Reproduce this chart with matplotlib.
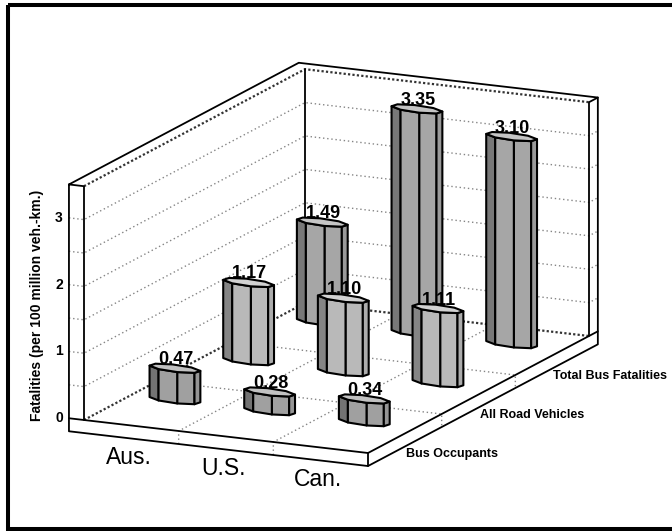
import numpy as np
import matplotlib
matplotlib.use('Agg')
import matplotlib.pyplot as plt
from matplotlib.patches import Polygon, Rectangle

plt.rcParams['font.family'] = ['Liberation Sans', 'DejaVu Sans']

categories = ['Aus.', 'U.S.', 'Can.']
series_names = ['Bus Occupants', 'All Road Vehicles', 'Total Bus Fatalities']
bus_occupants = [0.47, 0.28, 0.34]
all_road_vehicles = [1.17, 1.10, 1.11]
total_bus = [1.49, 3.35, 3.10]
z_ticks = [0, 1, 2, 3]
z_top = 3.5

series_values = [bus_occupants, all_road_vehicles, total_bus]
series_colors = ['#a0a0a0', '#b9b9b9', '#a6a6a6']

# oblique view, pixel space (x across, d into the page, z up)
ORIGIN = np.array([84.0, 420.0])
EX = np.array([284.0, 33.0])
ED = np.array([221.0, -117.0])
EZ = np.array([0.0, -66.8])

tx, td, slab = 0.053, 0.04, 0.195


def proj(x, d, z):
    return ORIGIN + x * EX + d * ED + z * EZ


def pts(seq):
    return np.array([proj(*p) for p in seq])


# depth ordering direction (toward the viewer, front-right)
kx = EX[1] / EX[0]
kd = ED[1] / ED[0]
sin_el = np.sqrt(-kx * kd)
az = np.arctan(kd / sin_el)
a_phys = EX[0] / -np.sin(az)
b_phys = ED[0] / np.cos(az)

# octagon outline in screen offsets, front vertex slightly right of centre
R = 25.5
flat = 0.14
phi = np.radians(5)
theta = phi + np.arange(8) * np.pi / 4
oct_off = np.column_stack([R * np.sin(theta),
                           R * np.sin(theta) * kx + R * flat * np.cos(theta)])

fig = plt.figure(figsize=(6.72, 5.31), dpi=100)
ax = fig.add_axes([0, 0, 1, 1])
ax.set_xlim(0, 672)
ax.set_ylim(531, 0)
ax.axis('off')

blk = dict(color='black', lw=1.3, solid_capstyle='round', zorder=3)


def line(seq, **kw):
    p = pts(seq)
    ax.plot(p[:, 0], p[:, 1], **kw)


def face(seq, z=1):
    ax.add_patch(Polygon(pts(seq), closed=True, facecolor='white',
                         edgecolor='none', zorder=z))


# floor slab and walls
face([(-tx, 0, -slab), (1, 0, -slab), (1, 0, 0), (-tx, 0, 0)])
face([(1, 0, -slab), (1, 1 + td, -slab), (1, 1 + td, 0), (1, 0, 0)])
face([(0, 0, 0), (1, 0, 0), (1, 1, 0), (0, 1, 0)])
face([(-tx, 0, 0), (0, 0, 0), (0, 0, z_top), (-tx, 0, z_top)])
face([(0, 0, 0), (0, 1, 0), (0, 1, z_top), (0, 0, z_top)])
face([(0, 1, 0), (1, 1, 0), (1, 1, z_top), (0, 1, z_top)])
face([(1, 1, 0), (1, 1 + td, 0), (1, 1 + td, z_top), (1, 1, z_top)])
face([(-tx, 0, z_top), (0, 0, z_top), (0, 1, z_top), (1, 1, z_top),
      (1, 1 + td, z_top), (-tx, 1 + td, z_top)])

# gridlines
grid = dict(color='#858585', lw=1.0, linestyle=(0, (1, 2)), zorder=2)
for z in np.arange(0.5, 3.01, 0.5):
    line([(-tx, 0, z), (0, 0, z), (0, 1, z), (1, 1, z), (1, 1 + td, z)], **grid)
for f in [1 / 3, 2 / 3]:
    line([(f, 0, -slab), (f, 0, 0), (f, 1, 0)], **grid)
    line([(0, f, 0), (1, f, 0), (1, f, -slab)], **grid)

# inner edges
inner = dict(color='#333333', lw=1.6, linestyle=(0, (1, 1)), zorder=3)
line([(0, 0, z_top), (0, 1, z_top), (1, 1, z_top)], **inner)
line([(0, 0, 0), (0, 1, 0), (1, 1, 0)], **inner)

# outer edges
line([(-tx, 0, z_top), (-tx, 0, -slab), (1, 0, -slab), (1, 1 + td, -slab),
      (1, 1 + td, z_top), (-tx, 1 + td, z_top), (-tx, 0, z_top),
      (0, 0, z_top), (0, 0, 0)], **blk)
line([(-tx, 0, 0), (1, 0, 0), (1, 1 + td, 0)], **blk)
line([(1, 0, -slab), (1, 0, 0)], **blk)
line([(1, 1, 0), (1, 1, z_top), (1, 1 + td, z_top)], **blk)
line([(0, 1, 0), (0, 1, z_top)], **blk)

# columns, far ones first
bars = []
for j, vals in enumerate(series_values):
    for i, v in enumerate(vals):
        cx = (i + 0.5) / 3 - 0.015
        cd = (j + 0.5) / 3 + 0.05
        depth = cx * a_phys * np.cos(az) + cd * b_phys * np.sin(az)
        bars.append((depth, cx, cd, v, series_colors[j]))
bars.sort()

for rank, (depth, cx, cd, v, col) in enumerate(bars):
    zo = 5 + rank * 0.1
    base = np.array(matplotlib.colors.to_rgb(col))
    bot = proj(cx, cd, 0)
    top = proj(cx, cd, v)
    for k in range(8):
        nrm = (phi + (k + 0.5) * np.pi / 4 + np.pi) % (2 * np.pi) - np.pi
        if np.cos(nrm) <= 1e-6:
            continue
        shade = 0.72 if nrm < -np.pi / 4 else (0.93 if nrm > np.pi / 3 else 1.0)
        k2 = (k + 1) % 8
        quad = np.array([bot + oct_off[k], bot + oct_off[k2],
                         top + oct_off[k2], top + oct_off[k]])
        ax.add_patch(Polygon(quad, closed=True, facecolor=base * shade,
                             edgecolor='black', lw=1.5, joinstyle='round',
                             zorder=zo))
    topcol = base + (1 - base) * 0.35
    ax.add_patch(Polygon(top + oct_off, closed=True, facecolor=topcol,
                         edgecolor='black', lw=1.5, joinstyle='round',
                         zorder=zo + 0.01))
    ax.text(top[0] + 1, top[1] - 4, f'{v:.2f}', ha='center', va='baseline',
            fontsize=13, fontweight='bold', zorder=20)

# axis labels
for z in z_ticks:
    px, py = proj(-tx, 0, z)
    ax.text(px - 6, py, str(z), ha='right', va='center', fontsize=10,
            fontweight='bold')
ax.text(37, 305, 'Fatalities (per 100 million veh.-km.)', rotation=90,
        ha='center', va='center', fontsize=10, fontweight='bold')

for i, name in enumerate(categories):
    px, py = proj((i + 0.5) / 3, 0, -slab)
    ax.text(px - 2.5, py + 19, name, ha='center', va='center', fontsize=16.5)

for j, name in enumerate(series_names):
    px, py = proj(1, (j + 0.5) / 3, -slab)
    ax.text(px + 1, py + 7.5, name, ha='left', va='center', fontsize=9,
            fontweight='bold')

ax.add_patch(Rectangle((8, 5), 680, 524, fill=False, edgecolor='black',
                       lw=2.9, zorder=30, clip_on=False))

fig.savefig('out.png', dpi=100)
